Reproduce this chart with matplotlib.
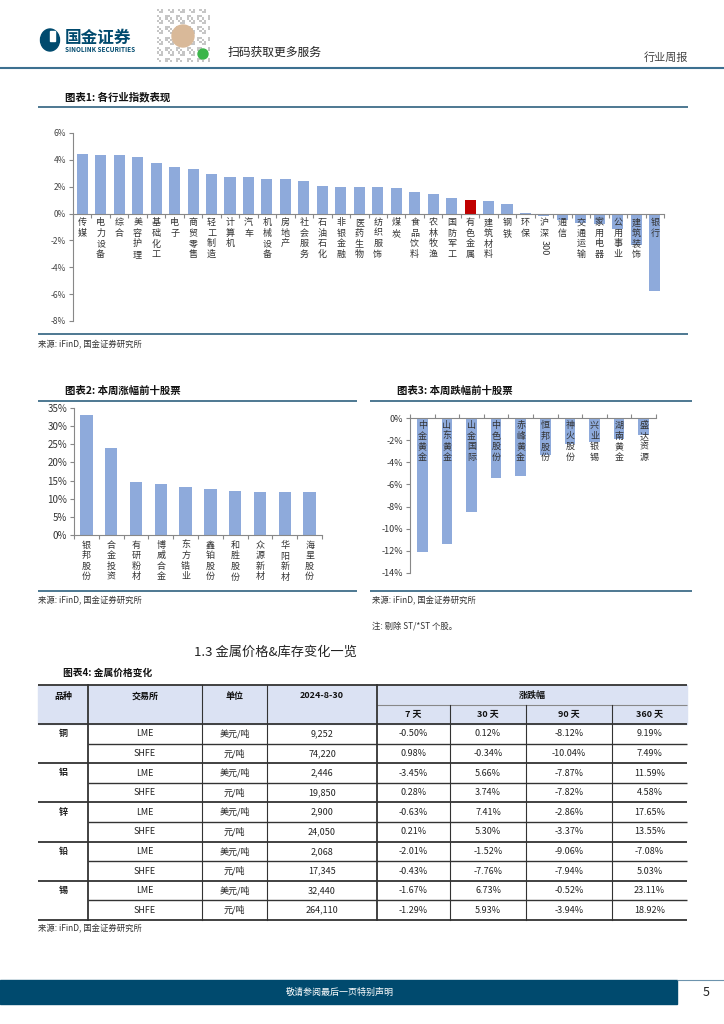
import numpy as np
import matplotlib
matplotlib.use("Agg")
import matplotlib.pyplot as plt
from matplotlib.patches import Rectangle, Circle, Ellipse

plt.rcParams['font.family'] = ['Noto Sans CJK SC', 'DejaVu Sans']

# ---- data ----
industries = ["传媒", "电力设备", "综合", "美容护理", "基础化工", "电子", "商贸零售", "轻工制造",
              "计算机", "汽车", "机械设备", "房地产", "社会服务", "石油石化", "非银金融", "医药生物",
              "纺织服饰", "煤炭", "食品饮料", "农林牧渔", "国防军工", "有色金属", "建筑材料", "钢铁",
              "环保", "沪深300", "通信", "交通运输", "家用电器", "公用事业", "建筑装饰", "银行"]
industry_chg = [4.42, 4.35, 4.35, 4.20, 3.79, 3.44, 3.29, 2.91, 2.76, 2.69, 2.61, 2.54, 2.41, 2.09,
                1.98, 1.98, 1.98, 1.93, 1.61, 1.46, 1.18, 1.03, 0.90, 0.70, 0.02, -0.18, -0.50,
                -0.70, -0.80, -1.13, -2.31, -5.80]
highlight = "有色金属"

gainers = ["银邦股份", "合金投资", "有研粉材", "博威合金", "东方锆业", "鑫铂股份", "和胜股份",
           "众源新材", "华阳新材", "海星股份"]
gainers_chg = [33.2, 23.9, 14.5, 14.1, 13.3, 12.6, 12.0, 11.8, 11.8, 11.8]

losers = ["中金黄金", "山东黄金", "山金国际", "中色股份", "赤峰黄金", "恒邦股份", "神火股份",
          "兴业银锡", "湖南黄金", "盛达资源"]
losers_chg = [-12.1, -11.35, -8.49, -5.42, -5.27, -3.34, -2.32, -2.14, -1.90, -1.54]

metals = ["铜", "铝", "锌", "铅", "锡"]
exchanges = ["LME", "SHFE"] * 5
units = ["美元/吨", "元/吨"] * 5
prices = [9252, 74220, 2446, 19850, 2900, 24050, 2068, 17345, 32440, 264110]
chg_7d = [-0.50, 0.98, -3.45, 0.28, -0.63, 0.21, -2.01, -0.43, -1.67, -1.29]
chg_30d = [0.12, -0.34, 5.66, 3.74, 7.41, 5.30, -1.52, -7.76, 6.73, 5.93]
chg_90d = [-8.12, -10.04, -7.87, -7.82, -2.86, -3.37, -9.06, -7.94, -0.52, -3.94]
chg_360d = [9.19, 7.49, 11.59, 4.58, 17.65, 13.55, -7.08, 5.03, 23.11, 18.92]

# ---- page ----
W, H = 724, 1024
BAR = "#8eaadb"
TEAL = "#2f617f"
NAVY = "#004a6e"
fig = plt.figure(figsize=(W / 100, H / 100), dpi=100)

page = fig.add_axes([0, 0, 1, 1])
page.set_xlim(0, W)
page.set_ylim(H, 0)
page.axis("off")


def px_axes(x0, y0, x1, y1):
    return fig.add_axes([x0 / W, 1 - y1 / H, (x1 - x0) / W, (y1 - y0) / H])


def hline(y, x0, x1, color=TEAL, lw=1.2):
    page.plot([x0, x1], [y, y], color=color, lw=lw, solid_capstyle="butt")


def vtext(ax, x, y, s, **kw):
    ax.text(x, y, "\n".join(s), ha="center", va="top", linespacing=1.22, **kw)


# header
page.add_patch(Ellipse((50, 40), 19, 22, color=NAVY))
page.add_patch(Rectangle((50, 31), 5, 10, color="white"))
page.text(65, 38, "国金证券", fontsize=12, fontweight="bold", color=NAVY, va="center")
page.text(65, 50, "SINOLINK SECURITIES", fontsize=4.6, fontweight="bold", color=NAVY, va="center")
qi, qj = np.indices((25, 25))
qr = ((qi * 7 + qj * 3 + qi * qj) % 5 < 2).astype(float)
page.imshow(qr, cmap="Greys", vmin=0, vmax=3, extent=(157, 210, 62, 9), interpolation="nearest")
page.add_patch(Circle((183, 36), 11, color="#d9b999"))
page.add_patch(Circle((203, 54), 5, color="#3bb54a"))
page.text(228, 52, "扫码获取更多服务", fontsize=8.5, color="#222", va="center")
page.text(688, 58, "行业周报", fontsize=8, color="#444", ha="right", va="center")
hline(68, 0, W, color="#3d7090", lw=1.5)

# titles, rules and sources
page.text(65, 97, "图表1: 各行业指数表现", fontsize=7.5, fontweight="bold", color="#111", va="center")
hline(107, 38, 688)
hline(334, 38, 688)
page.text(38, 345, "来源: iFinD, 国金证券研究所", fontsize=6, color="#333", va="center")

page.text(65, 391, "图表2: 本周涨幅前十股票", fontsize=7.5, fontweight="bold", color="#111", va="center")
hline(401, 38, 357)
hline(591, 38, 357)
page.text(38, 601, "来源: iFinD, 国金证券研究所", fontsize=6, color="#333", va="center")

page.text(397, 391, "图表3: 本周跌幅前十股票", fontsize=7.5, fontweight="bold", color="#111", va="center")
hline(401, 370, 692)
hline(591, 370, 692)
page.text(372, 601, "来源: iFinD, 国金证券研究所", fontsize=6, color="#333", va="center")
page.text(372, 626, "注: 剔除 ST/*ST 个股。", fontsize=6, color="#333", va="center")

page.text(275, 652, "1.3 金属价格&库存变化一览", fontsize=9.5, color="#222", ha="center", va="center")
page.text(63, 673, "图表4: 金属价格变化", fontsize=7, fontweight="bold", color="#111", va="center")
page.text(38, 929, "来源: iFinD, 国金证券研究所", fontsize=6, color="#333", va="center")

# footer
page.add_patch(Rectangle((0, 980), 677, 24, color=NAVY))
hline(980, 677, W, color="#6d93ad", lw=0.8)
page.text(340, 992, "敬请参阅最后一页特别声明", fontsize=6.5, color="white", ha="center", va="center")
page.text(706, 993, "5", fontsize=9, color="#222", ha="center", va="center")

# ---- chart 1 ----
ax1 = px_axes(73, 133, 664, 321)
x1 = np.arange(len(industries))
colors1 = ["#c00000" if n == highlight else BAR for n in industries]
ax1.bar(x1, industry_chg, width=0.6, color=colors1)
ax1.set_xlim(-0.5, len(industries) - 0.5)
ax1.set_ylim(-8, 6)
ax1.set_yticks(np.arange(-8, 7, 2))
ax1.set_yticklabels([f"{v}%" for v in range(-8, 7, 2)], fontsize=6, color="#444")
ax1.spines[["top", "right"]].set_visible(False)
ax1.spines["bottom"].set_position(("data", 0))
for s in ["left", "bottom"]:
    ax1.spines[s].set_color("#888")
ax1.set_xticks(np.arange(-0.5, len(industries), 1))
ax1.set_xticklabels([])
ax1.tick_params(axis="both", colors="#888", length=3, width=0.8)
ax1.tick_params(axis="y", labelcolor="#444", pad=2)
for i, name in enumerate(industries):
    if name == "沪深300":
        vtext(ax1, i, -0.35, "沪深", fontsize=6.5, color="#333")
        ax1.text(i, -2.0, "300", rotation=-90, ha="center", va="top", fontsize=6.5, color="#333")
    else:
        vtext(ax1, i, -0.35, name, fontsize=6.5, color="#333")

# ---- chart 2 ----
ax2 = px_axes(74, 408, 322, 535)
x2 = np.arange(len(gainers))
ax2.bar(x2, gainers_chg, width=0.5, color=BAR)
ax2.set_xlim(-0.5, len(gainers) - 0.5)
ax2.set_ylim(0, 35)
ax2.set_yticks(np.arange(0, 36, 5))
ax2.set_yticklabels([f"{v}%" for v in range(0, 36, 5)], fontsize=7, color="#333")
ax2.spines[["top", "right"]].set_visible(False)
for s in ["left", "bottom"]:
    ax2.spines[s].set_color("#888")
ax2.set_xticks(np.arange(-0.5, len(gainers), 1))
ax2.set_xticklabels([])
ax2.tick_params(axis="both", colors="#888", length=3, width=0.8)
ax2.tick_params(axis="y", labelcolor="#333", pad=2)
for i, name in enumerate(gainers):
    vtext(ax2, i, -1.6, name, fontsize=6.5, color="#333")

# ---- chart 3 ----
ax3 = px_axes(410, 418, 656, 573)
x3 = np.arange(len(losers))
ax3.bar(x3, losers_chg, width=0.43, color=BAR)
ax3.set_xlim(-0.5, len(losers) - 0.5)
ax3.set_ylim(-14, 0)
ax3.set_yticks(np.arange(-14, 1, 2))
ax3.set_yticklabels([f"{v}%" for v in range(-14, 1, 2)], fontsize=6.5, color="#333")
ax3.spines[["bottom", "right"]].set_visible(False)
for s in ["left", "top"]:
    ax3.spines[s].set_color("#888")
ax3.xaxis.tick_top()
ax3.set_xticks(np.arange(-0.5, len(losers), 1))
ax3.set_xticklabels([])
ax3.tick_params(axis="both", colors="#888", length=3, width=0.8)
ax3.tick_params(axis="y", labelcolor="#333", pad=2)
for i, name in enumerate(losers):
    vtext(ax3, i, -0.3, name, fontsize=6.5, color="#333")

# ---- table ----
TOP, HDR_MID, HDR_BOT, ROW_H = 685, 705, 724, 19.6
cols = [38, 88, 202, 267, 377, 450, 526, 612, 687]
HFILL = "#dbe2f3"
LINE = "#333"
page.add_patch(Rectangle((cols[0], TOP), cols[-1] - cols[0], HDR_BOT - TOP, color=HFILL, zorder=0))
n_rows = len(exchanges)
bottom = HDR_BOT + n_rows * ROW_H

hline(TOP, cols[0], cols[-1], color=LINE, lw=1.3)
hline(HDR_MID, cols[4], cols[-1], color="#888", lw=0.8)
hline(HDR_BOT, cols[0], cols[-1], color=LINE, lw=1.3)
for r in range(1, n_rows + 1):
    y = HDR_BOT + r * ROW_H
    if r % 2 == 0:
        hline(y, cols[0], cols[-1], color=LINE, lw=1.3)
    else:
        hline(y, cols[1], cols[-1], color=LINE, lw=1.0)
for k, c in enumerate(cols[1:-1], start=1):
    ytop = HDR_MID if k >= 5 else TOP
    lw = 1.3 if k in (1, 4) else 0.8
    page.plot([c, c], [ytop, bottom], color=LINE, lw=lw)

hdr_kw = dict(fontsize=6.5, fontweight="bold", color="#111", ha="center", va="center")
for k, s in enumerate(["品种", "交易所", "单位", "2024-8-30"]):
    page.text((cols[k] + cols[k + 1]) / 2, 696, s, **hdr_kw)
page.text((cols[4] + cols[-1]) / 2, 695, "涨跌幅", **hdr_kw)
for k, s in enumerate(["7 天", "30 天", "90 天", "360 天"]):
    page.text((cols[4 + k] + cols[5 + k]) / 2, 715, s, **hdr_kw)

cell_kw = dict(fontsize=6.5, color="#222", ha="center", va="center")
for r in range(n_rows):
    yc = HDR_BOT + (r + 0.5) * ROW_H
    if r % 2 == 0:
        page.text((cols[0] + cols[1]) / 2, yc, metals[r // 2], fontweight="bold", **cell_kw)
    vals = [exchanges[r], units[r], f"{prices[r]:,}", f"{chg_7d[r]:.2f}%",
            f"{chg_30d[r]:.2f}%", f"{chg_90d[r]:.2f}%", f"{chg_360d[r]:.2f}%"]
    for k, s in enumerate(vals, start=1):
        page.text((cols[k] + cols[k + 1]) / 2, yc, s, **cell_kw)

fig.savefig("out.png", dpi=100)
